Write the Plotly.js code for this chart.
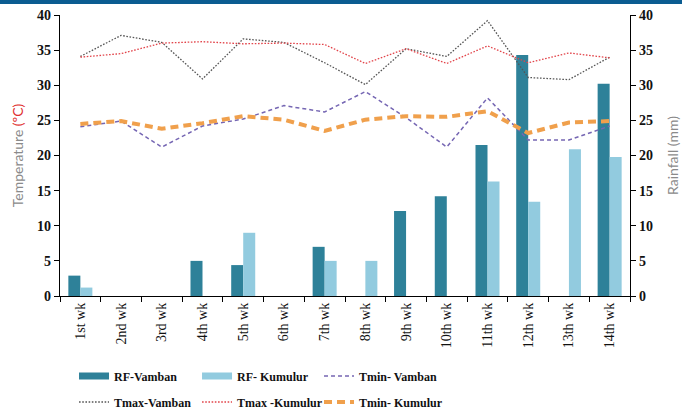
<!DOCTYPE html>
<html><head><meta charset="utf-8">
<script src="https://cdn.plot.ly/plotly-3.0.1.min.js"></script>
<style>body{margin:0;background:#fff}#band{position:absolute;left:0;top:0;width:682px;height:4px;background:#0b5c91;z-index:5}#chart{width:694px;height:410px}</style>
</head><body><div id="band"></div><div id="chart"></div>
<script>
const weeks = ["1st wk","2nd wk","3rd wk","4th wk","5th wk","6th wk","7th wk","8th wk","9th wk","10th wk","11th wk","12th wk","13th wk","14th wk"];
const rfVamban  = [2.9, 0, 0, 5.0, 4.4, 0, 7.0, 0, 12.1, 14.2, 21.5, 34.3, 0, 30.2];
const rfKumulur = [1.2, 0, 0, 0, 9.0, 0, 5.0, 5.0, 0, 0, 16.3, 13.4, 20.9, 19.8];
const tminVamban  = [24.1, 24.9, 21.2, 24.2, 25.2, 27.1, 26.2, 29.1, 25.4, 21.2, 28.2, 22.2, 22.2, 24.2];
const tmaxVamban  = [34.1, 37.1, 36.1, 30.9, 36.6, 36.1, 33.2, 30.1, 35.2, 34.1, 39.2, 31.1, 30.8, 34.0];
const tmaxKumulur = [34.0, 34.5, 36.0, 36.2, 35.9, 36.0, 35.8, 33.1, 35.2, 33.1, 35.6, 33.2, 34.6, 33.9];
const tminKumulur = [24.5, 24.9, 23.8, 24.6, 25.6, 25.1, 23.5, 25.1, 25.6, 25.5, 26.3, 23.2, 24.7, 24.9];

const serif = "Liberation Serif, Times New Roman, serif";
const cV = "#2e8199", cK = "#92cbdf";
const traces = [
  {type:"bar", name:"RF-Vamban", x:weeks, y:rfVamban, yaxis:"y", marker:{color:cV}, showlegend:false},
  {type:"bar", name:"RF- Kumulur", x:weeks, y:rfKumulur, yaxis:"y", marker:{color:cK}, showlegend:false},
  // legend proxies for the bar series (wide rectangle keys)
  {type:"scatter", mode:"lines", name:"RF-Vamban", x:[weeks[0]], y:[null], yaxis:"y", line:{color:cV, width:7}, legend:"legend", hoverinfo:"skip"},
  {type:"scatter", mode:"lines", name:"RF- Kumulur", x:[weeks[0]], y:[null], yaxis:"y", line:{color:cK, width:7}, legend:"legend2", hoverinfo:"skip"},
  {type:"scatter", mode:"lines", name:"Tmin- Vamban", x:weeks, y:tminVamban, yaxis:"y2", line:{color:"#7566b3", width:1.5, dash:"4px,3px"}, legend:"legend3"},
  {type:"scatter", mode:"lines", name:"Tmax-Vamban", x:weeks, y:tmaxVamban, yaxis:"y2", line:{color:"#555555", width:1.3, dash:"1.6px,1.6px"}, legend:"legend4"},
  {type:"scatter", mode:"lines", name:"Tmax -Kumulur", x:weeks, y:tmaxKumulur, yaxis:"y2", line:{color:"#e2444a", width:1.3, dash:"1.6px,1.6px"}, legend:"legend5"},
  {type:"scatter", mode:"lines", name:"Tmin- Kumulur", x:weeks, y:tminKumulur, yaxis:"y2", line:{color:"#f0a04c", width:4, dash:"8px,5px"}, legend:"legend6"}
];
const legFont = {family:serif, size:12, color:"#111", weight:"bold"};
const colX = [0.0246, 0.2404, 0.4544];
const rowY = [-0.2847, -0.3772];
function leg(col,row){return {orientation:"h", x:colX[col], xanchor:"left", y:rowY[row], yanchor:"middle", font:legFont, bgcolor:"rgba(0,0,0,0)"};}
const layout = {
  width:694, height:410,
  margin:{l:60, r:64, t:15, b:114, autoexpand:false},
  paper_bgcolor:"#fff", plot_bgcolor:"#fff",
  barmode:"group", bargap:0.41, bargroupgap:0,
  showlegend:true,
  xaxis:{type:"category", showline:true, linecolor:"#000", linewidth:1.2, ticks:"outside", tickson:"boundaries", ticklen:5, tickcolor:"#000",
         tickangle:-90, tickfont:{family:serif, size:14, color:"#111"}, showgrid:false, zeroline:false},
  yaxis:{side:"right", range:[0,40], dtick:5, showline:true, linecolor:"#000", linewidth:1.2, ticks:"outside", ticklen:5, tickcolor:"#000",
         tickfont:{family:serif, size:14, color:"#111", weight:"bold"}, showgrid:false, zeroline:false,
         title:{text:"Rainfall (mm)", font:{family:"Lato, sans-serif", size:14, color:"#8a8a8a"}, standoff:16}},
  yaxis2:{side:"left", overlaying:"y", range:[0,40], dtick:5, showline:true, linecolor:"#000", linewidth:1.2, ticks:"outside", ticklen:5, tickcolor:"#000",
         tickfont:{family:serif, size:14, color:"#111", weight:"bold"}, showgrid:false, zeroline:false,
         title:{text:'Temperature <span style="color:#e0302f">(ºC)</span>', font:{family:"Lato, sans-serif", size:14, color:"#8a8a8a"}, standoff:10}},
  legend:leg(0,0), legend2:leg(1,0), legend3:leg(2,0),
  legend4:leg(0,1), legend5:leg(1,1), legend6:leg(2,1)
};
Plotly.newPlot("chart", traces, layout, {displayModeBar:false, staticPlot:true});
</script></body></html>
